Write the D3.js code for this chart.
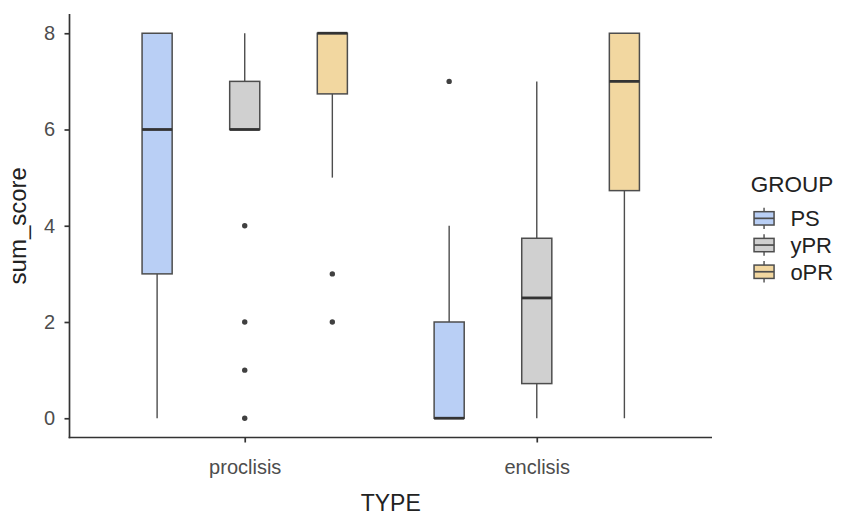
<!DOCTYPE html>
<html>
<head>
<meta charset="utf-8">
<script src="https://cdn.jsdelivr.net/npm/d3@7"></script>
<style>
  body { margin: 0; background: #fff; }
  svg { display: block; }
  text { font-family: "Liberation Sans", Arial, sans-serif; }
</style>
</head>
<body>
<svg id="chart" width="842" height="516"></svg>
<script>
// ---- Data ----
const categories = ["proclisis", "enclisis"];
const groups = ["PS", "yPR", "oPR"];
const groupColors = ["#b9cff5", "#d0d0d0", "#f2d7a0"];
const yTicks = [0, 2, 4, 6, 8];

// five-number summaries per group, one value per category
const PS_lower  = [0, 0];
const PS_q1     = [3, 0];
const PS_median = [6, 0];
const PS_q3     = [8, 2];
const PS_upper  = [8, 4];
const PS_out    = [[], [7]];

const yPR_lower  = [6, 0];
const yPR_q1     = [6, 0.72];
const yPR_median = [6, 2.5];
const yPR_q3     = [7, 3.74];
const yPR_upper  = [8, 7];
const yPR_out    = [[4, 2, 1, 0], []];

const oPR_lower  = [5, 0];
const oPR_q1     = [6.74, 4.73];
const oPR_median = [8, 7];
const oPR_q3     = [8, 8];
const oPR_upper  = [8, 8];
const oPR_out    = [[3, 2], []];

const series = {
  PS:  {lower: PS_lower,  q1: PS_q1,  median: PS_median,  q3: PS_q3,  upper: PS_upper,  out: PS_out},
  yPR: {lower: yPR_lower, q1: yPR_q1, median: yPR_median, q3: yPR_q3, upper: yPR_upper, out: yPR_out},
  oPR: {lower: oPR_lower, q1: oPR_q1, median: oPR_median, q3: oPR_q3, upper: oPR_upper, out: oPR_out}
};

// ---- Layout ----
const svg = d3.select("#chart");
const pLeft = 69.5, pRight = 712, pTop = 14, pBottom = 437.5;

const x = d3.scalePoint().domain(categories).range([pLeft, pRight]).padding(0.6);
const step = x.step();
const dodge = d3.scalePoint().domain(groups).range([-0.3 * step, 0.3 * step]);
const boxW = 0.103 * step;
const y = d3.scaleLinear().domain([-0.4, 8.4]).range([pBottom, pTop]);
const color = d3.scaleOrdinal().domain(groups).range(groupColors);

const lineCol = "#4d4d4d";
const axisCol = "#333333";

// ---- Boxes ----
const rows = [];
groups.forEach(g => categories.forEach((c, i) => {
  const s = series[g];
  rows.push({g, c, lower: s.lower[i], q1: s.q1[i], median: s.median[i], q3: s.q3[i], upper: s.upper[i], out: s.out[i]});
}));

const gBox = svg.append("g");
rows.forEach(d => {
  const cx = x(d.c) + dodge(d.g);
  const gg = gBox.append("g");
  gg.append("line").attr("x1", cx).attr("x2", cx).attr("y1", y(d.q3)).attr("y2", y(d.upper))
    .attr("stroke", lineCol).attr("stroke-width", 1.4);
  gg.append("line").attr("x1", cx).attr("x2", cx).attr("y1", y(d.q1)).attr("y2", y(d.lower))
    .attr("stroke", lineCol).attr("stroke-width", 1.4);
  gg.append("rect").attr("x", cx - boxW / 2).attr("width", boxW)
    .attr("y", y(d.q3)).attr("height", Math.max(0, y(d.q1) - y(d.q3)))
    .attr("fill", color(d.g)).attr("stroke", lineCol).attr("stroke-width", 1.5);
  gg.append("line").attr("x1", cx - boxW / 2).attr("x2", cx + boxW / 2)
    .attr("y1", y(d.median)).attr("y2", y(d.median))
    .attr("stroke", "#333333").attr("stroke-width", 2.8);
  d.out.forEach(v => {
    gg.append("circle").attr("cx", cx).attr("cy", y(v)).attr("r", 2.7).attr("fill", "#404040");
  });
});

// ---- Axes ----
const yAxis = svg.append("g").attr("transform", `translate(${pLeft},0)`)
  .call(d3.axisLeft(y).tickValues(yTicks).tickSize(5).tickSizeOuter(0).tickPadding(9.5));
const xAxis = svg.append("g").attr("transform", `translate(0,${pBottom})`)
  .call(d3.axisBottom(x).tickSize(5).tickSizeOuter(0).tickPadding(17.5));

[yAxis, xAxis].forEach(a => {
  a.select(".domain").attr("stroke", axisCol).attr("stroke-width", 1.7);
  a.selectAll(".tick line").attr("stroke", axisCol).attr("stroke-width", 1.7);
  a.selectAll(".tick text").attr("fill", "#4d4d4d").style("font-size", "20px")
    .style("font-family", "'Liberation Sans', Arial, sans-serif");
});
xAxis.select(".domain").attr("d", `M${pLeft - 0.85},0H${pRight}`);
yAxis.select(".domain").attr("d", `M0,${pTop}V${pBottom + 0.85}`);

// ---- Axis titles ----
svg.append("text").attr("x", (pLeft + pRight) / 2).attr("y", 511)
  .attr("text-anchor", "middle").attr("fill", "#222").style("font-size", "23px").text("TYPE");
svg.append("text").attr("transform", `translate(26,${(pTop + pBottom) / 2}) rotate(-90)`)
  .attr("text-anchor", "middle").attr("fill", "#222").style("font-size", "24px").text("sum_score");

// ---- Legend ----
const key = 26.7;
const lg = svg.append("g").attr("transform", "translate(750.7,205)");
lg.append("text").attr("x", 0).attr("y", -13).attr("fill", "#222").style("font-size", "22.5px").text("GROUP");
groups.forEach((g, i) => {
  const k = lg.append("g").attr("transform", `translate(0,${i * key})`);
  k.append("line").attr("x1", key / 2).attr("x2", key / 2).attr("y1", key * 0.1).attr("y2", key * 0.9)
    .attr("stroke", lineCol).attr("stroke-width", 1.4);
  k.append("rect").attr("x", key * 0.125).attr("width", key * 0.75)
    .attr("y", key * 0.25).attr("height", key * 0.5)
    .attr("fill", color(g)).attr("stroke", lineCol).attr("stroke-width", 1.5);
  k.append("line").attr("x1", key * 0.125).attr("x2", key * 0.875).attr("y1", key / 2).attr("y2", key / 2)
    .attr("stroke", lineCol).attr("stroke-width", 1.7);
  k.append("text").attr("x", key + 13).attr("y", key / 2).attr("dy", "0.36em")
    .attr("fill", "#222").style("font-size", "22px").text(g);
});
</script>
</body>
</html>
